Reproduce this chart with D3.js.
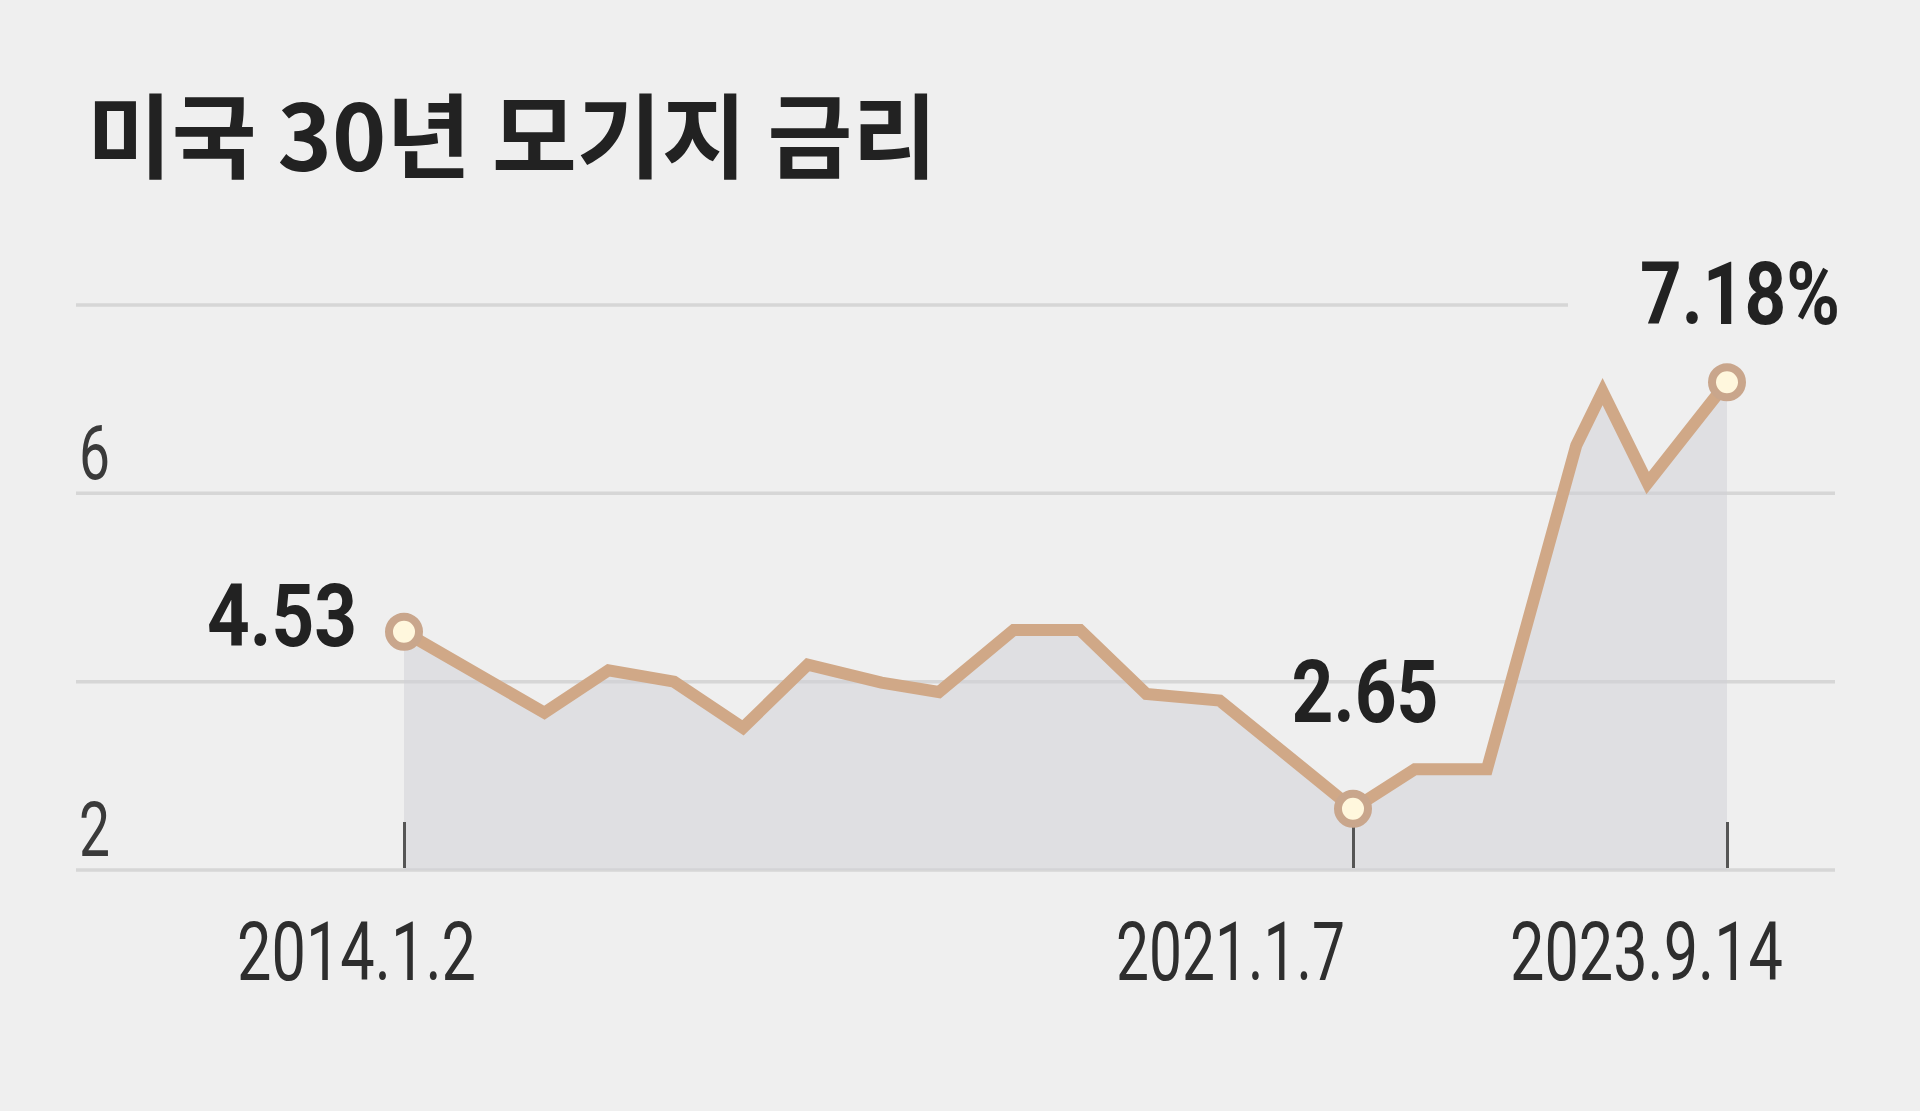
<!DOCTYPE html>
<html><head><meta charset="utf-8">
<script src="https://cdn.jsdelivr.net/npm/d3@7"></script>
<style>html,body{margin:0;padding:0;background:#efefef;} svg{display:block}</style>
</head><body>
<svg id="c" width="1920" height="1111"></svg>
<script>
// ---- data ----
const titleText = "미국 30년 모기지 금리";
const dates = ["2014-01-02","2015-01-16","2015-07-08","2016-01-01","2016-07-05","2016-12-27","2017-07-14","2017-12-16","2018-07-06","2019-01-01","2019-06-29","2020-01-13","2021-01-07","2021-06-18","2021-12-24","2022-08-15","2022-10-23","2023-02-18","2023-09-14"];
const rates = [4.53,3.67,4.12,4.00,3.51,4.18,3.99,3.89,4.55,4.55,3.87,3.80,2.65,3.07,3.07,6.51,7.08,6.11,7.18];
const yGridValues = [2,4,6,8];
const yLabelValues = [2,6];
const yLabelTexts = ["2","6"];
const xTickDates = ["2014-01-02","2021-01-07","2023-09-14"];
const xTickLabels = ["2014.1.2","2021.1.7","2023.9.14"];
const markDates = ["2014-01-02","2021-01-07","2023-09-14"];
const markLabels = ["4.53","2.65","7.18%"];

// ---- layout (kept apart from data) ----
const parse = d3.timeParse("%Y-%m-%d");
const svg = d3.select("#c");
const x = d3.scaleTime().domain(xTickDates.map(parse)).range([404, 1353, 1727]);
const y = d3.scaleLinear().domain([2, 8]).range([870, 305]);
const series = dates.map((d, i) => ({date: parse(d), v: rates[i]}));
const numFont = "Roboto, 'Liberation Sans', sans-serif";

svg.append("rect").attr("width", 1920).attr("height", 1111).attr("fill", "#efefef");

// title
svg.append("text").text(titleText)
  .attr("x", 87).attr("y", 171)
  .attr("font-family", "'Noto Sans CJK KR', sans-serif")
  .attr("font-weight", 700).attr("font-size", 92)
  .attr("fill", "#222")
  .attr("textLength", 850).attr("lengthAdjust", "spacingAndGlyphs");

// gridlines
svg.append("g").selectAll("line").data(yGridValues).join("line")
  .attr("x1", 76).attr("x2", d => d === 8 ? 1568 : 1835)
  .attr("y1", d => y(d)).attr("y2", d => y(d))
  .attr("stroke", "#d6d6d6").attr("stroke-width", 3.5);

// y labels
svg.append("g").selectAll("text").data(yLabelValues).join("text")
  .text((d, i) => yLabelTexts[i])
  .attr("x", 79).attr("y", d => y(d) - 14)
  .attr("font-family", numFont).attr("font-size", 76)
  .attr("fill", "#3a3a3a")
  .attr("textLength", 31).attr("lengthAdjust", "spacingAndGlyphs");

// area
const area = d3.area().x(d => x(d.date)).y0(y(2)).y1(d => y(d.v));
svg.append("path").datum(series).attr("d", area)
  .attr("fill", "#cfcfd6").attr("fill-opacity", 0.5);

// x axis ticks
const xAxis = d3.axisBottom(x).tickValues(xTickDates.map(parse))
  .tickFormat((d, i) => xTickLabels[i]).tickSize(46).tickSizeOuter(0);
const gx = svg.append("g").attr("transform", "translate(0,822)").call(xAxis);
gx.select(".domain").remove();
gx.selectAll(".tick line").attr("stroke", "#555").attr("stroke-width", 3);
const xLabelDx = [-48, -123, -81];
const xLabelW = [239, 229, 273];
gx.selectAll(".tick text")
  .attr("y", 158).attr("dy", 0)
  .attr("x", (d, i) => xLabelDx[i])
  .attr("text-anchor", "middle")
  .attr("font-family", numFont).attr("font-size", 82)
  .attr("fill", "#2e2e2e")
  .attr("textLength", (d, i) => xLabelW[i]).attr("lengthAdjust", "spacingAndGlyphs");

// line
const line = d3.line().x(d => x(d.date)).y(d => y(d.v));
svg.append("path").datum(series).attr("d", line)
  .attr("fill", "none").attr("stroke", "#d0a887").attr("stroke-width", 12)
  .attr("stroke-linejoin", "miter").attr("stroke-miterlimit", 3);

// markers
const marks = markDates.map((d, i) => {
  const dt = parse(d);
  const p = series.find(s => +s.date === +dt);
  return {date: dt, v: p.v, label: markLabels[i]};
});
svg.append("g").selectAll("circle").data(marks).join("circle")
  .attr("cx", d => x(d.date)).attr("cy", d => y(d.v)).attr("r", 15)
  .attr("fill", "#fff7dd").attr("stroke", "#c9a68c").attr("stroke-width", 8);

// marker labels
const mDx = [-47, 12, 13];
const mDy = [14, -87, -58];
const mAnchor = ["end", "middle", "middle"];
const mW = [150, 147, 200];
svg.append("g").selectAll("text").data(marks).join("text")
  .text(d => d.label)
  .attr("x", (d, i) => x(d.date) + mDx[i])
  .attr("y", (d, i) => y(d.v) + mDy[i])
  .attr("text-anchor", (d, i) => mAnchor[i])
  .attr("font-family", numFont).attr("font-weight", 700).attr("font-size", 88)
  .attr("fill", "#222")
  .attr("textLength", (d, i) => mW[i]).attr("lengthAdjust", "spacingAndGlyphs");
</script>
</body></html>
